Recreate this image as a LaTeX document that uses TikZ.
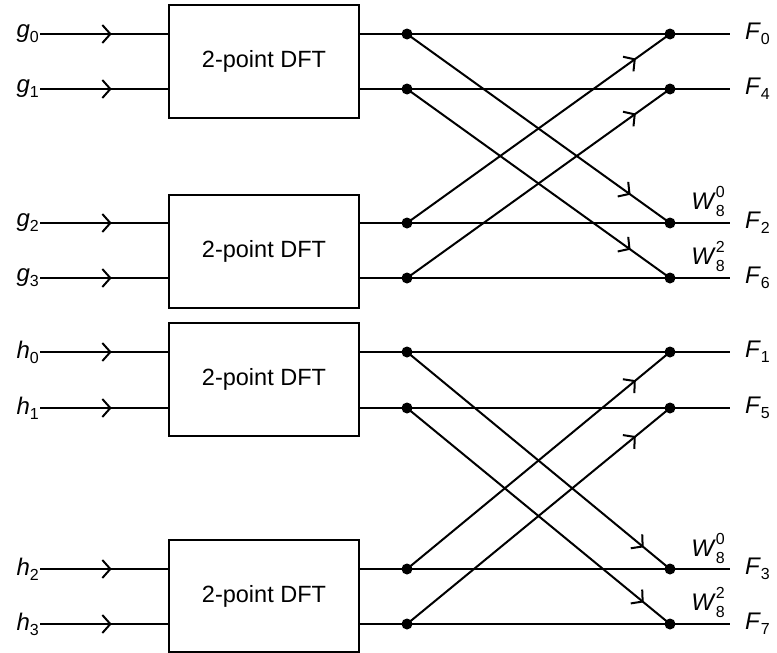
\documentclass[tikz,border=0pt]{standalone}
\usepackage{fontspec}
\setmainfont{Liberation Sans}
\usetikzlibrary{arrows.meta,decorations.markings}
\newcommand{\vsub}[2]{\textit{#1}\raisebox{-0.4ex}{\fontsize{16}{16}\selectfont #2}}
\newcommand{\wlab}[1]{\textit{W}\rlap{\raisebox{1.0ex}{\fontsize{16}{16}\selectfont #1}}\raisebox{-0.5ex}{\fontsize{16}{16}\selectfont 8}}
\tikzset{
  wire/.style={line width=2pt},
  dftbox/.style={draw, line width=2pt, minimum width=190pt, minimum height=113pt, inner sep=0pt, font=\fontsize{23.5}{28}\selectfont},
  dot/.style={circle, fill, inner sep=0pt, minimum size=11pt},
  lab/.style={font=\fontsize{24}{28}\selectfont, inner sep=1pt},
  arr/.style={postaction={decorate}, decoration={markings, mark=at position #1 with {\arrow{Straight Barb[length=8pt,width=18pt,line width=2pt]}}}},
}
\begin{document}
\begin{tikzpicture}[x=1pt,y=-1pt]
\useasboundingbox (0,0) rectangle (777,653);
% boxes
\node[dftbox] (b1) at (264,61.5) {2-point DFT};
\node[dftbox] (b2) at (264,251.5) {2-point DFT};
\node[dftbox] (b3) at (264,379.5) {2-point DFT};
\node[dftbox, minimum height=112pt] (b4) at (264,596) {2-point DFT};
% rows: name / y / input label / box / output label
\foreach \r/\y/\inl/\bx/\outl in {
  r0/34/\vsub{g}{0}/b1/\vsub{F}{0},
  r1/89/\vsub{g}{1}/b1/\vsub{F}{4},
  r2/223/\vsub{g}{2}/b2/\vsub{F}{2},
  r3/278/\vsub{g}{3}/b2/\vsub{F}{6},
  r4/352/\vsub{h}{0}/b3/\vsub{F}{1},
  r5/408/\vsub{h}{1}/b3/\vsub{F}{5},
  r6/569/\vsub{h}{2}/b4/\vsub{F}{3},
  r7/624/\vsub{h}{3}/b4/\vsub{F}{7}} {
  \coordinate (s\r) at (40,\y);
  \node[lab, anchor=east] (in\r) at (s\r) {\inl};
  \coordinate (e\r) at (730,\y);
  \node[lab, anchor=west] (out\r) at (744,\y) {\outl};
  \node[dot] (a\r) at (407,\y) {};
  \node[dot] (c\r) at (670,\y) {};
  \draw[wire, arr=0.56] (s\r) -- (\bx.west |- s\r);
  \draw[wire] (\bx.east |- s\r) -- (a\r.center) -- (c\r.center) -- (e\r);
}
% butterflies
\draw[wire, arr=0.85] (ar0.center) -- (cr2.center);
\draw[wire, arr=0.85] (ar1.center) -- (cr3.center);
\draw[wire, arr=0.87] (ar2.center) -- (cr0.center);
\draw[wire, arr=0.87] (ar3.center) -- (cr1.center);
\draw[wire, arr=0.90] (ar4.center) -- (cr6.center);
\draw[wire, arr=0.90] (ar5.center) -- (cr7.center);
\draw[wire, arr=0.87] (ar6.center) -- (cr4.center);
\draw[wire, arr=0.87] (ar7.center) -- (cr5.center);
% twiddle labels
\node[lab] (w0) at (708,201) {\wlab{0}};
\node[lab] (w2) at (708,256) {\wlab{2}};
\node[lab] (w3) at (708,548) {\wlab{0}};
\node[lab] (w4) at (708,602) {\wlab{2}};
\end{tikzpicture}
\end{document}
